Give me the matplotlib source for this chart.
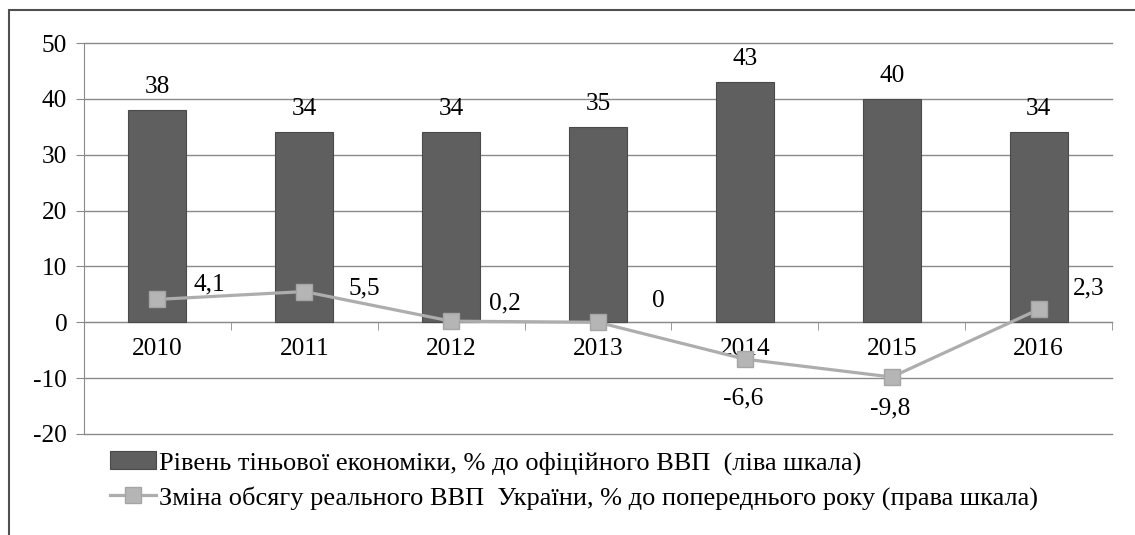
import matplotlib
matplotlib.use("Agg")
import matplotlib.pyplot as plt
from matplotlib.patches import Rectangle

plt.rcParams['font.family'] = 'serif'
plt.rcParams['font.serif'] = ['Liberation Serif', 'DejaVu Serif']
plt.rcParams['axes.unicode_minus'] = False

years = ["2010", "2011", "2012", "2013", "2014", "2015", "2016"]
shadow = [38, 34, 34, 35, 43, 40, 34]
gdp_change = [4.1, 5.5, 0.2, 0.0, -6.6, -9.8, 2.3]
gdp_labels = ["4,1", "5,5", "0,2", "0", "-6,6", "-9,8", "2,3"]

bar_name = "Рівень тіньової економіки, % до офіційного ВВП  (ліва шкала)"
line_name = "Зміна обсягу реального ВВП  України, % до попереднього року (права шкала)"

# label offsets in pixels (dx, dy) for the line labels
line_offsets = [(52, 15), (60, 3), (54, 18), (60, 21), (-2, -39), (-2, -31), (50, 21)]

fig = plt.figure(figsize=(11.35, 5.35), dpi=100)
W, H = 1135, 535
ax = fig.add_axes([84 / W, (H - 434) / H, 1028 / W, 391 / H])

grid_c = "#8a8a8a"
fs = 18.3
x = list(range(len(years)))

bars = ax.bar(x, shadow, width=0.395, color="#5f5f5f", edgecolor="#4a4a4a",
              linewidth=0.8, zorder=2, label=bar_name)
line, = ax.plot(x, gdp_change, color="#adadad", lw=2.3, marker="s", markersize=11,
                markerfacecolor="#b5b5b5", markeredgecolor="#a5a5a5", zorder=3,
                label=line_name)

for xi, v in zip(x, shadow):
    ax.annotate(str(v), (xi, v), xytext=(0, 23 * 0.72), textcoords="offset points",
                ha="center", va="center", fontsize=fs)

for xi, v, t, (dx, dy) in zip(x, gdp_change, gdp_labels, line_offsets):
    ax.annotate(t, (xi, v), xytext=(dx * 0.72, dy * 0.72), textcoords="offset points",
                ha="center", va="center", fontsize=fs)

ax.set_xlim(-0.5, 6.5)
ax.set_ylim(-20, 50)
ax.set_yticks(range(-20, 51, 10))
ax.yaxis.grid(True, color=grid_c, lw=1.0, zorder=0)
ax.set_axisbelow(True)
for gl in ax.get_ygridlines():
    gl.set_clip_on(False)

for s in ["top", "right"]:
    ax.spines[s].set_visible(False)
ax.spines["left"].set_color(grid_c)
ax.spines["bottom"].set_position(("data", 0))
ax.spines["bottom"].set_color(grid_c)
ax.spines["bottom"].set_zorder(1)

ax.set_xticks(x)
ax.set_xticklabels(years)
ax.set_xticks([i - 0.5 for i in range(len(years) + 1)], minor=True)
ax.tick_params(axis="x", which="major", length=0, pad=11, labelsize=fs)
ax.tick_params(axis="x", which="minor", length=6, color=grid_c, direction="out")
ax.tick_params(axis="y", length=6, color=grid_c, pad=6, labelsize=fs)

fig.legend(handles=[bars, line], loc="upper left", bbox_to_anchor=(110 / W, 1 - 451 / H),
           frameon=False, fontsize=19, handlelength=1.75, handletextpad=0.1,
           labelspacing=0.42, borderaxespad=0, borderpad=0)

# outer frame of the picture
fig.patches.append(Rectangle((9 / W, -0.1), 1.2, 1 - 10 / H + 0.1, transform=fig.transFigure,
                             fill=False, edgecolor="#505050", lw=1.5))

fig.savefig("out.png", dpi=100)
